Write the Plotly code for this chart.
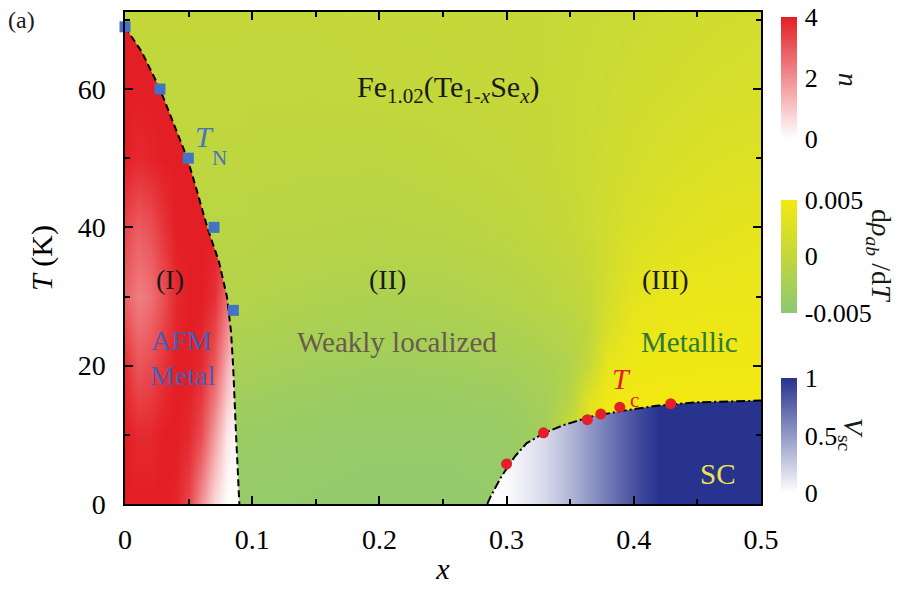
import plotly.graph_objects as go

# ---------------------------------------------------------------
# dρ_ab/dT map (values in 1e-3 units), on an (x, T) grid
# ---------------------------------------------------------------
rho_x = [0.0, 0.05, 0.1, 0.15, 0.2, 0.25, 0.3, 0.33, 0.35, 0.365, 0.38, 0.4, 0.43, 0.46, 0.5]
rho_T = [0, 5, 10, 15, 20, 25, 30, 40, 50, 60, 71]
rho_milli = [
    [-4.1, -4.1, -4.1, -4.2, -4.3, -4.3, -4.2, -3.8, -2.0, 2.0, 5.0, 5.0, 5.0, 5.0, 5.0],
    [-4.0, -4.0, -4.0, -4.1, -4.2, -4.2, -4.0, -3.4, -1.0, 2.0, 5.0, 5.0, 5.0, 5.0, 5.0],
    [-3.7, -3.7, -3.7, -3.9, -4.0, -4.0, -3.8, -3.0, 1.0, 4.0, 5.0, 5.0, 5.0, 5.0, 5.0],
    [-3.2, -3.2, -3.2, -3.5, -3.7, -3.6, -3.4, -2.6, -1.0, 3.0, 4.7, 4.9, 5.0, 5.0, 5.0],
    [-2.5, -2.5, -2.5, -2.9, -3.1, -3.0, -2.7, -2.2, -1.6, 0.5, 4.0, 4.5, 4.6, 4.7, 4.7],
    [-1.9, -1.9, -1.9, -2.3, -2.5, -2.4, -2.0, -1.5, -1.0, -0.3, 2.5, 4.2, 4.4, 4.5, 4.5],
    [-1.4, -1.4, -1.4, -1.7, -1.9, -1.8, -1.3, -0.8, -0.4, 0.2, 1.8, 3.5, 4.0, 4.1, 4.2],
    [-0.8, -0.8, -0.8, -0.9, -1.0, -0.8, -0.5, 0.0, 0.4, 0.9, 1.5, 2.3, 3.0, 3.3, 3.6],
    [-0.4, -0.4, -0.4, -0.5, -0.5, -0.3, 0.0, 0.3, 0.6, 0.9, 1.2, 1.7, 2.2, 2.6, 2.8],
    [-0.1, -0.1, -0.1, -0.1, 0.0, 0.1, 0.2, 0.4, 0.6, 0.8, 1.0, 1.3, 1.6, 1.9, 2.1],
    [0.1, 0.1, 0.1, 0.1, 0.2, 0.2, 0.3, 0.4, 0.5, 0.6, 0.7, 0.9, 1.2, 1.4, 1.7],
]

# ---------------------------------------------------------------
# Magnetic moment n in the AFM region
# ---------------------------------------------------------------
n_x = [0.00, 0.01, 0.02, 0.03, 0.04, 0.05, 0.06, 0.07, 0.08, 0.09]
n_T = [0, 10, 20, 30, 40, 50, 60, 70]
n_z = [
    [4.0, 4.0, 4.0, 4.0, 3.9, 3.3, 2.0, 0.7, 0.0, 0.0],
    [4.0, 3.8, 3.8, 4.0, 4.0, 3.8, 3.2, 1.8, 0.4, 0.0],
    [3.7, 3.0, 3.2, 3.6, 4.0, 4.0, 3.8, 3.0, 1.4, 0.3],
    [2.8, 2.3, 2.5, 3.1, 3.8, 4.0, 4.0, 3.7, 2.6, 1.5],
    [3.3, 2.9, 3.1, 3.6, 4.0, 4.0, 4.0, 4.0, 4.0, 4.0],
    [4.0, 3.8, 3.9, 4.0, 4.0, 4.0, 4.0, 4.0, 4.0, 4.0],
    [4.0, 4.0, 4.0, 4.0, 4.0, 4.0, 4.0, 4.0, 4.0, 4.0],
    [4.0, 4.0, 4.0, 4.0, 4.0, 4.0, 4.0, 4.0, 4.0, 4.0],
]

# ---------------------------------------------------------------
# Superconducting volume fraction V_sc across x
# ---------------------------------------------------------------
vsc_x = [0.2848, 0.30, 0.33, 0.357, 0.383, 0.404, 0.42, 0.5]
vsc_v = [0.0, 0.02, 0.18, 0.42, 0.68, 0.88, 1.0, 1.0]

# Phase boundaries
tn_line_x = [0.0, 0.0131, 0.0275, 0.0385, 0.049, 0.057, 0.0647, 0.0739, 0.0801, 0.0833, 0.085, 0.0873, 0.0899]
tn_line_T = [69, 65.4, 60, 55, 50, 45, 40, 35, 30, 25, 20, 10, 0]
tc_line_x = [0.2848, 0.2875, 0.296, 0.3066, 0.3158, 0.3289, 0.3446, 0.3656, 0.3918, 0.418, 0.449, 0.5]
tc_line_T = [0, 1.1, 4.0, 6.9, 8.8, 10.2, 11.4, 12.6, 13.5, 14.2, 14.7, 14.95]

# Measured transition temperatures
tn_x = [0.0, 0.0275, 0.0498, 0.07, 0.0852]
tn_T = [69, 60, 50, 40, 28]
tc_x = [0.30, 0.329, 0.3635, 0.374, 0.389, 0.429]
tc_T = [5.8, 10.3, 12.2, 13.0, 14.0, 14.5]

# ---------------------------------------------------------------
FONT = "Liberation Serif, Times New Roman, serif"
RHO_SCALE = [[0.0, "#8cc873"], [0.5, "#c2d73b"], [1.0, "#f3e912"]]
N_SCALE = [[0.0, "#ffffff"], [1.0, "#e31e24"]]
VSC_SCALE = [[0.0, "#ffffff"], [1.0, "#27338e"]]
RHO_MIN, RHO_MAX = -0.005, 0.005
CB_X = 1.0314


def _rgb(h):
    h = h.lstrip("#")
    return [int(h[i:i + 2], 16) for i in (0, 2, 4)]


def scale_color(scale, t):
    t = min(max(t, 0.0), 1.0)
    for (p0, c0), (p1, c1) in zip(scale[:-1], scale[1:]):
        if p0 <= t <= p1:
            f = 0 if p1 == p0 else (t - p0) / (p1 - p0)
            a, b = _rgb(c0), _rgb(c1)
            r = [round(a[k] + f * (b[k] - a[k])) for k in range(3)]
            return "rgb(%d,%d,%d)" % tuple(r)
    return scale[-1][1]


def colorbar(y, length, **kw):
    return dict(x=CB_X, xanchor="left", xpad=0, ypad=0, y=y, yanchor="middle",
                len=length, thickness=16, outlinewidth=0,
                ticks="outside", ticklen=3, tickcolor="rgba(0,0,0,0)",
                tickfont=dict(family=FONT, size=26, color="black"), **kw)


rho_z = [[v * 1e-3 for v in row] for row in rho_milli]

fig = go.Figure()

# background resistivity-slope map
fig.add_trace(go.Heatmap(
    x=rho_x, y=rho_T, z=rho_z, zsmooth="best",
    colorscale=RHO_SCALE, zmin=RHO_MIN, zmax=RHO_MAX, hoverinfo="skip",
    colorbar=colorbar(0.504, 0.229, tickvals=[-0.005, 0, 0.005],
                      ticktext=["-0.005", "0", "0.005"]),
))

# AFM moment map
fig.add_trace(go.Heatmap(
    x=n_x, y=n_T, z=n_z, zsmooth="best",
    colorscale=N_SCALE, zmin=0, zmax=4, hoverinfo="skip",
    colorbar=colorbar(0.8665, 0.247, tickvals=[0, 2, 4]),
))

# paramagnetic side of the T_N line, coloured from the x = 0.1 column of the slope map
col = rho_x.index(0.1)
top_T = 76
mask_scale = [[T / top_T, scale_color(RHO_SCALE, (row[col] * 1e-3 - RHO_MIN) / (RHO_MAX - RHO_MIN))]
              for T, row in zip(rho_T, rho_milli)]
mask_scale.append([1.0, mask_scale[-1][1]])
fig.add_trace(go.Scatter(
    x=tn_line_x + [0.1, 0.1, 0.0], y=tn_line_T + [0, top_T, top_T],
    mode="lines", line=dict(width=0), fill="toself", hoverinfo="skip",
    fillgradient=dict(type="vertical", start=0, stop=top_T, colorscale=mask_scale),
    showlegend=False,
))

# superconducting dome, shaded by V_sc
span = vsc_x[-1] - vsc_x[0]
sc_scale = [[(xv - vsc_x[0]) / span, scale_color(VSC_SCALE, v)] for xv, v in zip(vsc_x, vsc_v)]
fig.add_trace(go.Scatter(
    x=tc_line_x + [0.5], y=tc_line_T + [0],
    mode="lines", line=dict(width=0), fill="toself", hoverinfo="skip",
    fillgradient=dict(type="horizontal", start=vsc_x[0], stop=vsc_x[-1], colorscale=sc_scale),
    showlegend=False,
))
# V_sc profile carrying the colour scale
fig.add_trace(go.Scatter(
    x=vsc_x, y=[0] * len(vsc_x), mode="markers", hoverinfo="skip", showlegend=False,
    marker=dict(color=vsc_v, colorscale=VSC_SCALE, cmin=0, cmax=1, size=2, opacity=0,
                showscale=True,
                colorbar=colorbar(0.1386, 0.233, tickvals=[0, 0.5, 1], ticktext=["0", "0.5", "1"])),
))

# boundaries
fig.add_trace(go.Scatter(x=tn_line_x, y=tn_line_T, mode="lines", hoverinfo="skip", showlegend=False,
                         line=dict(color="black", width=2, dash="7px,4px")))
fig.add_trace(go.Scatter(x=tc_line_x, y=tc_line_T, mode="lines", hoverinfo="skip", showlegend=False,
                         line=dict(color="black", width=2, dash="9px,3px,2px,3px")))

# data points
fig.add_trace(go.Scatter(x=tn_x, y=tn_T, mode="markers", showlegend=False, cliponaxis=False,
                         marker=dict(symbol="square", size=11, color="#4472c4")))
fig.add_trace(go.Scatter(x=tc_x, y=tc_T, mode="markers", showlegend=False,
                         marker=dict(symbol="circle", size=11, color="#e3202a")))


def label(text, x, y, size=28, color="#1a1a1a", **kw):
    fig.add_annotation(text=text, x=x, y=y, showarrow=False, xanchor="center", yanchor="middle",
                       font=dict(family=FONT, size=size, color=color), **kw)


label("Fe<sub>1.02</sub>(Te<sub>1-<i>x</i></sub>Se<sub><i>x</i></sub>)", 0.254, 60.0, size=30)
label("(I)", 0.0354, 32.4)
label("(II)", 0.206, 32.4)
label("(III)", 0.425, 32.4)
label("AFM", 0.0448, 23.7, color="#4a5cb4")
label("Metal", 0.0456, 18.6, color="#4a5cb4")
label("Weakly localized", 0.2138, 23.4, size=29, color="#6b5b4b")
label("Metallic", 0.444, 23.4, size=29, color="#2a7a3a")
label("<i>T</i>", 0.0625, 53.1, size=30, color="#4a74c0")
label("N", 0.0739, 50.0, size=21, color="#4a74c0")
label("<i>T</i>", 0.3907, 18.1, size=30, color="#e3202a")
label("c", 0.4005, 15.0, size=21, color="#e3202a")
label("SC", 0.466, 4.4, size=29, color="#f2e34b")

# colour-bar titles
label("<i>n</i>", 1.138, 0.863, size=28, xref="paper", yref="paper", textangle=90)
label("d<i>ρ</i><sub><i>ab</i></sub> /d<i>T</i>", 1.187, 0.504, size=28,
      xref="paper", yref="paper", textangle=90)
label("<i>V</i><sub>sc</sub>", 1.1415, 0.1406, size=28, xref="paper", yref="paper", textangle=90)
label("(a)", -0.162, 0.984, size=24, xref="paper", yref="paper")

axis_common = dict(showline=True, linecolor="black", linewidth=1.5, mirror="ticks",
                   ticks="inside", ticklen=8, tickwidth=1.5, tickcolor="black",
                   showgrid=False, zeroline=False,
                   tickfont=dict(family=FONT, size=28, color="black"))

fig.update_layout(
    width=913, height=590,
    margin=dict(l=125, r=152, t=10, b=82),
    paper_bgcolor="white", plot_bgcolor="white",
    xaxis=dict(range=[0, 0.5], tick0=0, dtick=0.1, ticklabelstandoff=10,
               minor=dict(ticks="inside", ticklen=5, dtick=0.05, tick0=0, tickcolor="black"),
               title=dict(text="<i>x</i>", font=dict(family=FONT, size=30, color="black"), standoff=4),
               **axis_common),
    yaxis=dict(range=[0, 71.14], tick0=0, dtick=20, ticklabelstandoff=12,
               minor=dict(ticks="inside", ticklen=5, dtick=10, tick0=0, tickcolor="black"),
               title=dict(text="<i>T</i> (K)", font=dict(family=FONT, size=30, color="black"), standoff=16),
               **axis_common),
)

fig.write_html("out.html")
